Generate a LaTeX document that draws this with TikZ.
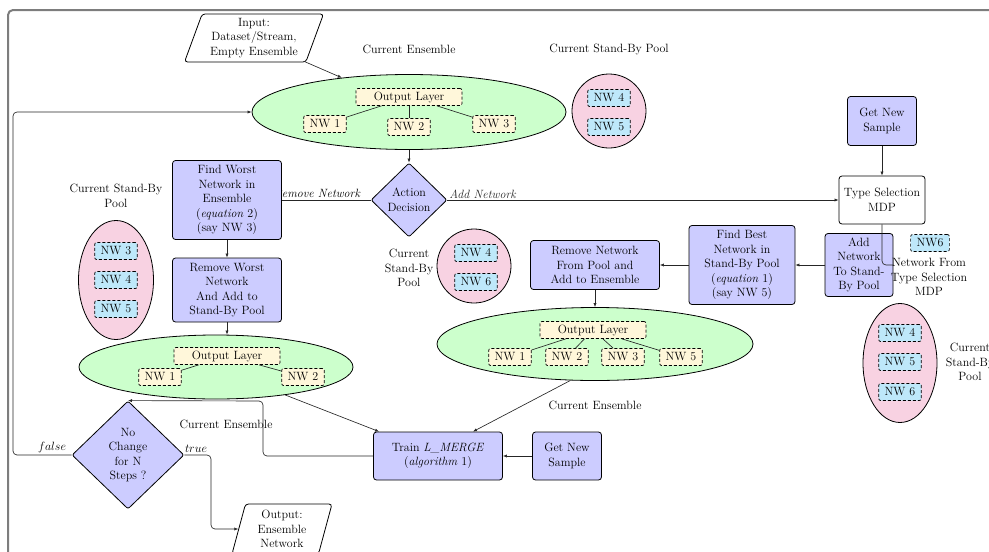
\documentclass[tikz,border=0pt]{standalone}
\usetikzlibrary{shapes.geometric,arrows.meta,backgrounds,calc}
\definecolor{lav}{RGB}{204,204,255}
\definecolor{ensgreen}{RGB}{204,255,204}
\definecolor{poolpink}{RGB}{248,210,226}
\definecolor{nwblue}{RGB}{190,232,250}
\definecolor{nwyellow}{RGB}{255,247,218}
\definecolor{framegray}{RGB}{125,125,125}
\begin{document}
\begin{tikzpicture}[x=1pt,y=-1pt,
  font=\fontsize{12}{14.5}\selectfont,
  line join=round,
  proc/.style={draw, line width=0.8pt, rounded corners=3pt, fill=lav, align=center, inner sep=1pt},
  plain/.style={draw, line width=0.8pt, rounded corners=3pt, fill=white, align=center, inner sep=1pt},
  decide/.style={draw, line width=0.8pt, diamond, rounded corners=2pt, fill=lav, align=center, inner sep=0pt},
  io/.style={draw, line width=0.8pt, trapezium, trapezium stretches body, rounded corners=3pt, fill=white, align=center, inner sep=2pt},
  ens/.style={draw, line width=0.8pt, ellipse, fill=ensgreen, inner sep=0pt},
  pool/.style={draw, line width=0.8pt, ellipse, fill=poolpink, inner sep=0pt},
  nw/.style={draw, line width=0.7pt, dash pattern=on 3pt off 2pt, rounded corners=2pt, fill=nwblue, inner xsep=6pt, inner ysep=2pt, minimum height=17pt},
  nwy/.style={nw, fill=nwyellow},
  outl/.style={nwy, minimum width=106pt},
  tag/.style={align=center, inner sep=1pt},
  link/.style={line width=0.65pt, black!85},
  arr/.style={link, -{Latex[length=4pt,width=3.2pt]}},
]
\useasboundingbox (0,0) rectangle (989,552);

% page frame
\begin{scope}
  \clip (0,0) rectangle (989,552);
  \draw[framegray, line width=2pt, rounded corners=5pt] (8,580) -- (8,10) -- (1020,10);
\end{scope}

% ---------- upper part ----------
\node[io, trapezium left angle=68, trapezium right angle=112, minimum width=139pt, minimum height=48pt] (input) at (254,38) {Input:\\Dataset/Stream,\\Empty Ensemble};

\node[tag] (lblens1) at (409,49) {Current Ensemble};
\node[tag] (lblpool1) at (609,49) {Current Stand-By Pool};

\node[ens, minimum width=314pt, minimum height=75pt] (ens1) at (409,112) {};
\node[outl] (ol1) at (409,97) {Output Layer};
\node[nwy] (e1n1) at (325,124) {NW 1};
\node[nwy] (e1n2) at (409,127) {NW 2};
\node[nwy] (e1n3) at (494,124) {NW 3};
\draw[link] (ol1) -- (e1n1);
\draw[link] (ol1) -- (e1n2);
\draw[link] (ol1) -- (e1n3);

\node[pool, minimum width=74pt, minimum height=74pt] (pool1) at (609,111) {};
\node[nw] (p1n4) at (609,98) {NW 4};
\node[nw] (p1n5) at (609,127) {NW 5};

\node[decide, minimum width=76pt, minimum height=74pt] (act) at (409,200) {Action\\Decision};

\node[proc, minimum width=109pt, minimum height=79pt] (worst) at (227,200) {Find Worst\\Network in\\Ensemble\\(\textit{equation} 2)\\(say NW 3)};
\node[proc, minimum width=109pt, minimum height=64pt] (remworst) at (227,290) {Remove Worst\\Network\\And Add to\\Stand-By Pool};

\node[tag] (lblpoolL) at (116,196) {Current Stand-By\\Pool};
\node[pool, minimum width=75pt, minimum height=119pt] (poolL) at (116,280) {};
\node[nw] (pLn3) at (116,251) {NW 3};
\node[nw] (pLn4) at (116,280) {NW 4};
\node[nw] (pLn5) at (116,309) {NW 5};

\node[ens, minimum width=274pt, minimum height=64pt] (ens2) at (216,367) {};
\node[outl] (ol2) at (227,356) {Output Layer};
\node[nwy] (e2n1) at (160,377) {NW 1};
\node[nwy] (e2n2) at (303,377) {NW 2};
\draw[link] (ol2) -- (e2n1);
\draw[link] (ol2) -- (e2n2);
\node[tag] (lblens2) at (226,424) {Current Ensemble};

% ---------- right part ----------
\node[proc, minimum width=69pt, minimum height=49pt] (getA) at (882,121) {Get New\\Sample};
\node[plain, minimum width=86pt, minimum height=48pt] (type) at (882,200) {Type Selection\\MDP};
\node[proc, minimum width=68pt, minimum height=63pt] (addnet) at (859,265) {Add\\Network\\To Stand-\\By Pool};
\node[nw] (nw6) at (930,243) {NW6};
\node[tag] (lblnew) at (929,277) {Network From\\Type Selection\\MDP};
\node[proc, minimum width=106pt, minimum height=79pt] (best) at (742,265) {Find Best\\Network in\\Stand-By Pool\\(\textit{equation} 1)\\(say NW 5)};
\node[proc, minimum width=129pt, minimum height=49pt] (remnet) at (595,265) {Remove Network\\From Pool and\\Add to Ensemble};

\node[tag] (lblpoolM) at (409,268) {Current\\Stand-By\\Pool};
\node[pool, minimum width=74pt, minimum height=74pt] (poolM) at (474,266) {};
\node[nw] (pMn4) at (476,253) {NW 4};
\node[nw] (pMn6) at (476,282) {NW 6};

\node[ens, minimum width=316pt, minimum height=73pt] (ens3) at (595,344) {};
\node[outl] (ol3) at (593,330) {Output Layer};
\node[nwy] (e3n1) at (510,357) {NW 1};
\node[nwy] (e3n2) at (567,357) {NW 2};
\node[nwy] (e3n3) at (623,357) {NW 3};
\node[nwy] (e3n5) at (681,357) {NW 5};
\draw[link] (ol3) -- (e3n1);
\draw[link] (ol3) -- (e3n2);
\draw[link] (ol3) -- (e3n3);
\draw[link] (ol3) -- (e3n5);
\node[tag] (lblens3) at (595,405) {Current Ensemble};

\node[pool, minimum width=74pt, minimum height=119pt] (poolR) at (900,363) {};
\node[nw] (pRn4) at (900,333) {NW 4};
\node[nw] (pRn5) at (900,362) {NW 5};
\node[nw] (pRn6) at (900,392) {NW 6};
\node[tag] (lblpoolR) at (970,362) {Current\\Stand-By\\Pool};

% ---------- lower part ----------
\node[proc, minimum width=129pt, minimum height=48pt] (train) at (438,456) {Train \textit{L\_MERGE}\\(\textit{algorithm} 1)};
\node[proc, minimum width=69pt, minimum height=48pt] (getB) at (567,456) {Get New\\Sample};
\node[decide, minimum width=112pt, minimum height=108pt] (nochange) at (128,455) {No\\Change\\for N\\Steps ?};
\node[io, trapezium left angle=72, trapezium right angle=108, minimum width=100pt, minimum height=50pt] (output) at (282,529) {Output:\\Ensemble\\Network};

% ---------- connectors ----------
\coordinate (loopB) at (13,455);
\coordinate (loopT) at (13,112);
\coordinate (backC) at (263,401);
\coordinate (trueC) at (211,455);

\draw[arr] ([xshift=-2pt,yshift=1pt]input.bottom right corner) -- (ens1.153);
\draw[arr, rounded corners=4pt] (nochange.west) -- (loopB) -- (loopT) -- (ens1.west);
\draw[arr] (ens1.south) -- (act.north);

\draw[link] (act.west) -- (worst.east);
\begin{pgfonlayer}{background}
  \node[tag, anchor=south, font=\fontsize{12}{14.5}\selectfont\itshape] (lblrem) at (317,199) {Remove Network};
\end{pgfonlayer}
\draw[arr] (act.east) -- node[tag, pos=0.09, anchor=south, font=\fontsize{12}{14.5}\selectfont\itshape] (lbladd) {Add Network} (type.west);

\draw[arr] (worst.south) -- (remworst.north);
\draw[arr] (remworst.south) -- (remworst.south |- ens2.north);

\draw[arr] (getA.south) -- (type.north);
\draw[link, rounded corners=4pt] (type.south) |- (addnet.east);
\draw[arr] (addnet.west) -- (best.east);
\draw[arr] (best.west) -- (remnet.east);
\draw[arr] (remnet.south) -- (ens3.north);

\draw[arr] (ens2.338) -- ([xshift=6pt]train.north west);
\draw[arr] (ens3.236) -- ([xshift=35pt]train.north);
\draw[arr] (getB.west) -- (train.east);
\draw[arr, rounded corners=4pt] (train.west) -| (backC) -- (nochange.north);
\draw[arr, rounded corners=4pt] (nochange.east) -- (trueC) |- (output.west);

\node[tag, anchor=south] (lblfalse) at (52,454) {$false$};
\node[tag, anchor=south] (lbltrue) at (196,454) {$true$};

\end{tikzpicture}
\end{document}
